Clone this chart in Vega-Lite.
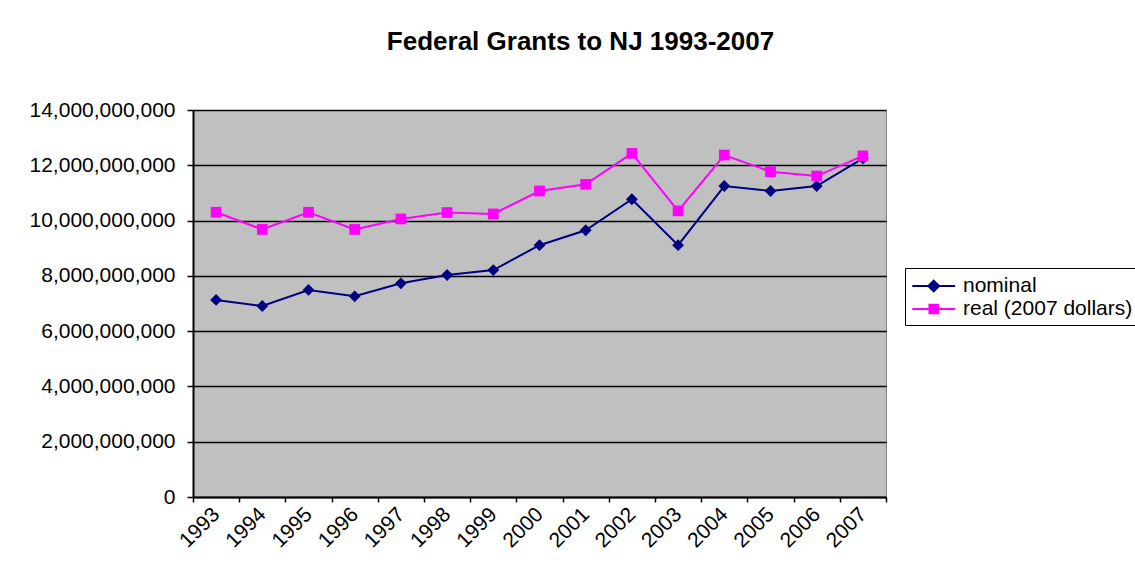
{
  "$schema": "https://vega.github.io/schema/vega-lite/v6.json",
  "autosize": "none",
  "width": 693,
  "height": 387,
  "padding": {"left": 193, "top": 110, "right": 249, "bottom": 90},
  "background": "white",
  "title": {
    "text": "Federal Grants to NJ 1993-2007",
    "font": "Liberation Sans",
    "fontSize": 26,
    "fontWeight": "bold",
    "color": "black",
    "anchor": "middle",
    "frame": "group",
    "dx": 41,
    "baseline": "alphabetic",
    "offset": 23
  },
  "config": {
    "font": "Liberation Sans",
    "view": {"fill": "#C0C0C0", "stroke": "#808080", "strokeWidth": 1}
  },
  "data": {
    "values": [
      {"year": "1993", "series": "nominal", "value": 7130000000},
      {"year": "1994", "series": "nominal", "value": 6910000000},
      {"year": "1995", "series": "nominal", "value": 7490000000},
      {"year": "1996", "series": "nominal", "value": 7260000000},
      {"year": "1997", "series": "nominal", "value": 7730000000},
      {"year": "1998", "series": "nominal", "value": 8030000000},
      {"year": "1999", "series": "nominal", "value": 8210000000},
      {"year": "2000", "series": "nominal", "value": 9110000000},
      {"year": "2001", "series": "nominal", "value": 9650000000},
      {"year": "2002", "series": "nominal", "value": 10770000000},
      {"year": "2003", "series": "nominal", "value": 9110000000},
      {"year": "2004", "series": "nominal", "value": 11250000000},
      {"year": "2005", "series": "nominal", "value": 11070000000},
      {"year": "2006", "series": "nominal", "value": 11250000000},
      {"year": "2007", "series": "nominal", "value": 12250000000},
      {"year": "1993", "series": "real (2007 dollars)", "value": 10300000000},
      {"year": "1994", "series": "real (2007 dollars)", "value": 9680000000},
      {"year": "1995", "series": "real (2007 dollars)", "value": 10300000000},
      {"year": "1996", "series": "real (2007 dollars)", "value": 9680000000},
      {"year": "1997", "series": "real (2007 dollars)", "value": 10060000000},
      {"year": "1998", "series": "real (2007 dollars)", "value": 10290000000},
      {"year": "1999", "series": "real (2007 dollars)", "value": 10240000000},
      {"year": "2000", "series": "real (2007 dollars)", "value": 11070000000},
      {"year": "2001", "series": "real (2007 dollars)", "value": 11310000000},
      {"year": "2002", "series": "real (2007 dollars)", "value": 12430000000},
      {"year": "2003", "series": "real (2007 dollars)", "value": 10350000000},
      {"year": "2004", "series": "real (2007 dollars)", "value": 12370000000},
      {"year": "2005", "series": "real (2007 dollars)", "value": 11770000000},
      {"year": "2006", "series": "real (2007 dollars)", "value": 11610000000},
      {"year": "2007", "series": "real (2007 dollars)", "value": 12340000000}
    ]
  },
  "encoding": {
    "x": {
      "field": "year",
      "type": "ordinal",
      "bandPosition": 0.5,
      "scale": {"type": "band", "paddingInner": 0, "paddingOuter": 0},
      "axis": {
        "title": null,
        "labelAngle": -45,
        "labelAlign": "right",
        "labelBaseline": "middle",
        "labelFontSize": 21,
        "labelColor": "black",
        "labelPadding": 9,
        "tickBand": "extent",
        "tickSize": 5,
        "tickColor": "black",
        "tickWidth": 1.5,
        "domainColor": "black",
        "domainWidth": 2,
        "grid": false
      }
    },
    "y": {
      "field": "value",
      "type": "quantitative",
      "scale": {"domain": [0, 14000000000], "nice": false},
      "axis": {
        "title": null,
        "values": [0, 2000000000, 4000000000, 6000000000, 8000000000, 10000000000, 12000000000, 14000000000],
        "format": ",d",
        "labelFontSize": 21,
        "labelColor": "black",
        "labelPadding": 12,
        "tickSize": 6,
        "tickColor": "black",
        "tickWidth": 1.5,
        "domainColor": "black",
        "domainWidth": 2,
        "grid": true,
        "gridColor": "black",
        "gridWidth": 1.5
      }
    },
    "color": {
      "field": "series",
      "type": "nominal",
      "scale": {"domain": ["nominal", "real (2007 dollars)"], "range": ["#000080", "#FF00FF"]},
      "legend": {
        "title": null,
        "orient": "none",
        "legendX": 712,
        "legendY": 158,
        "strokeColor": "black",
        "fillColor": "white",
        "padding": 6,
        "rowPadding": 1,
        "labelFontSize": 21,
        "labelColor": "black",
        "labelOffset": 28,
        "labelLimit": 0,
        "symbolSize": 460,
        "symbolStrokeWidth": 2,
        "symbolType": "M-1,0H3",
        "encode": {
          "symbols": {
            "update": {
              "shape": {"signal": "datum.value === 'nominal' ? 'M-1,0H3M1,-0.5L1.5,0L1,0.5L0.5,0Z' : 'M-1,0H3M0.6,-0.4H1.4V0.4H0.6Z'"},
              "fill": {"signal": "datum.value === 'nominal' ? '#000080' : '#FF00FF'"},
              "fillOpacity": {"value": 1},
              "stroke": {"signal": "datum.value === 'nominal' ? '#000080' : '#FF00FF'"},
              "strokeWidth": {"value": 2}
            }
          }
        }
      }
    }
  },
  "layer": [
    {"mark": {"type": "line", "strokeWidth": 2}},
    {
      "transform": [{"filter": "datum.series === 'nominal'"}],
      "mark": {"type": "point", "filled": true, "opacity": 1, "shape": "diamond", "size": 140}
    },
    {
      "transform": [{"filter": "datum.series !== 'nominal'"}],
      "mark": {"type": "point", "filled": true, "opacity": 1, "shape": "square", "size": 115}
    }
  ]
}
